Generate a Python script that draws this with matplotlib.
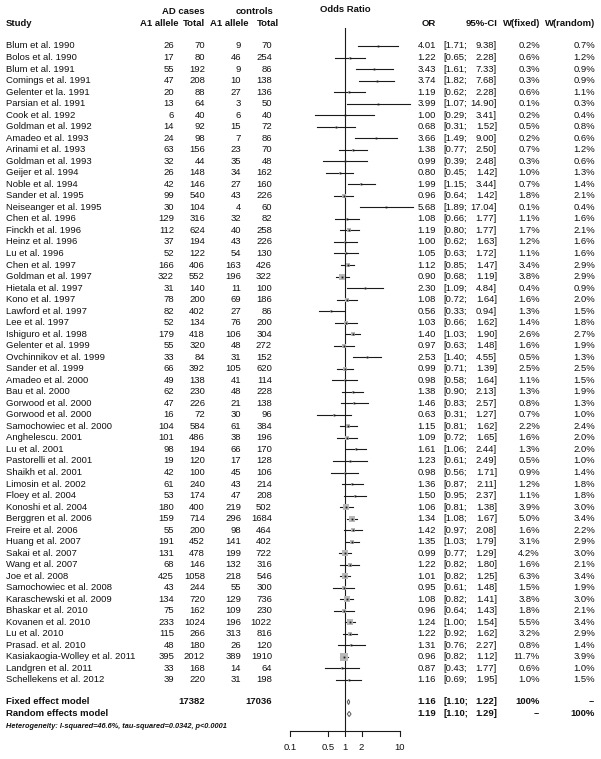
import matplotlib
matplotlib.use("Agg")
import matplotlib.pyplot as plt
import numpy as np
from matplotlib.patches import Polygon

plt.rcParams['font.family'] = ['Liberation Sans', 'DejaVu Sans']

studies = ["Blum et al. 1990", "Bolos et al. 1990", "Blum et al. 1991", "Comings et al. 1991",
           "Gelenter et la. 1991", "Parsian et al. 1991", "Cook et al. 1992", "Goldman et al. 1992",
           "Amadeo et al. 1993", "Arinami et al. 1993", "Goldman et al. 1993", "Geijer et al. 1994",
           "Noble et al. 1994", "Sander et al. 1995", "Neiseanger et al. 1995", "Chen et al. 1996",
           "Finckh et al. 1996", "Heinz et al. 1996", "Lu et al. 1996", "Chen et al. 1997",
           "Goldman et al. 1997", "Hietala et al. 1997", "Kono et al. 1997", "Lawford et al. 1997",
           "Lee et al. 1997", "Ishiguro et al. 1998", "Gelenter et al. 1999", "Ovchinnikov et al. 1999",
           "Sander et al. 1999", "Amadeo et al. 2000", "Bau et al. 2000", "Gorwood et al. 2000",
           "Gorwood et al. 2000", "Samochowiec et al. 2000", "Anghelescu. 2001", "Lu et al. 2001",
           "Pastorelli et al. 2001", "Shaikh et al. 2001", "Limosin et al. 2002", "Floey et al. 2004",
           "Konoshi et al. 2004", "Berggren et al. 2006", "Freire et al. 2006", "Huang et al. 2007",
           "Sakai et al. 2007", "Wang et al. 2007", "Joe et al. 2008", "Samochowiec et al. 2008",
           "Karaschewski et al. 2009", "Bhaskar et al. 2010", "Kovanen et al. 2010", "Lu et al. 2010",
           "Prasad. et al. 2010", "Kasiakaogia-Wolley et al. 2011", "Landgren et al. 2011",
           "Schellekens et al. 2012"]
case_a1 = [26, 17, 55, 47, 20, 13, 6, 14, 24, 63, 32, 26, 42, 99, 30, 129, 112, 37, 52, 166,
           322, 31, 78, 82, 52, 179, 55, 33, 66, 49, 62, 47, 16, 104, 101, 98, 19, 42, 61, 53,
           180, 159, 55, 191, 131, 68, 425, 43, 134, 75, 233, 115, 48, 395, 33, 39]
case_tot = [70, 80, 192, 208, 88, 64, 40, 92, 98, 156, 44, 148, 146, 540, 104, 316, 624, 194, 122, 406,
            552, 140, 200, 402, 134, 418, 320, 84, 392, 138, 230, 226, 72, 584, 486, 194, 120, 100, 240, 174,
            400, 714, 200, 452, 478, 146, 1058, 244, 720, 162, 1024, 266, 180, 2012, 168, 220]
ctrl_a1 = [9, 46, 9, 10, 27, 3, 6, 15, 7, 23, 35, 34, 27, 43, 4, 32, 40, 43, 54, 163,
           196, 11, 69, 27, 76, 106, 48, 31, 105, 41, 48, 21, 30, 61, 38, 66, 17, 45, 43, 47,
           219, 296, 98, 141, 199, 132, 218, 55, 129, 109, 196, 313, 26, 389, 14, 31]
ctrl_tot = [70, 254, 86, 138, 136, 50, 40, 72, 86, 70, 48, 162, 160, 226, 60, 82, 258, 226, 130, 426,
            322, 100, 186, 86, 200, 304, 272, 152, 620, 114, 228, 138, 96, 384, 196, 170, 128, 106, 214, 208,
            502, 1684, 464, 402, 722, 316, 546, 300, 736, 230, 1022, 816, 120, 1910, 64, 198]
odds = [4.01, 1.22, 3.43, 3.74, 1.19, 3.99, 1.00, 0.68, 3.66, 1.38, 0.99, 0.80, 1.99, 0.96, 5.68, 1.08,
        1.19, 1.00, 1.05, 1.12, 0.90, 2.30, 1.08, 0.56, 1.03, 1.40, 0.97, 2.53, 0.99, 0.98, 1.38, 1.46,
        0.63, 1.15, 1.09, 1.61, 1.23, 0.98, 1.36, 1.50, 1.06, 1.34, 1.42, 1.35, 0.99, 1.22, 1.01, 0.95,
        1.08, 0.96, 1.24, 1.22, 1.31, 0.96, 0.87, 1.16]
ci_lo = [1.71, 0.65, 1.61, 1.82, 0.62, 1.07, 0.29, 0.31, 1.49, 0.77, 0.39, 0.45, 1.15, 0.64, 1.89, 0.66,
         0.80, 0.62, 0.63, 0.85, 0.68, 1.09, 0.72, 0.33, 0.66, 1.03, 0.63, 1.40, 0.71, 0.58, 0.90, 0.83,
         0.31, 0.81, 0.72, 1.06, 0.61, 0.56, 0.87, 0.95, 0.81, 1.08, 0.97, 1.03, 0.77, 0.82, 0.82, 0.61,
         0.82, 0.64, 1.00, 0.92, 0.76, 0.82, 0.43, 0.69]
ci_hi = [9.38, 2.28, 7.33, 7.68, 2.28, 14.90, 3.41, 1.52, 9.00, 2.50, 2.48, 1.42, 3.44, 1.42, 17.04, 1.77,
         1.77, 1.63, 1.72, 1.47, 1.19, 4.84, 1.64, 0.94, 1.62, 1.90, 1.48, 4.55, 1.39, 1.64, 2.13, 2.57,
         1.27, 1.62, 1.65, 2.44, 2.49, 1.71, 2.11, 2.37, 1.38, 1.67, 2.08, 1.79, 1.29, 1.80, 1.25, 1.48,
         1.41, 1.43, 1.54, 1.62, 2.27, 1.12, 1.77, 1.95]
w_fixed = [0.2, 0.6, 0.3, 0.3, 0.6, 0.1, 0.2, 0.5, 0.2, 0.7, 0.3, 1.0, 0.7, 1.8, 0.1, 1.1,
           1.7, 1.2, 1.1, 3.4, 3.8, 0.4, 1.6, 1.3, 1.4, 2.6, 1.6, 0.5, 2.5, 1.1, 1.3, 0.8,
           0.7, 2.2, 1.6, 1.3, 0.5, 0.9, 1.2, 1.1, 3.9, 5.0, 1.6, 3.1, 4.2, 1.6, 6.3, 1.5,
           3.8, 1.8, 5.5, 3.2, 0.8, 11.7, 0.6, 1.0]
w_random = [0.7, 1.2, 0.9, 0.9, 1.1, 0.3, 0.4, 0.8, 0.6, 1.2, 0.6, 1.3, 1.4, 2.1, 0.4, 1.6,
            2.1, 1.6, 1.6, 2.9, 2.9, 0.9, 2.0, 1.5, 1.8, 2.7, 1.9, 1.3, 2.5, 1.5, 1.9, 1.3,
            1.0, 2.4, 2.0, 2.0, 1.0, 1.4, 1.8, 1.8, 3.0, 3.4, 2.2, 2.9, 3.0, 2.1, 3.4, 1.9,
            3.0, 2.1, 3.4, 2.9, 1.4, 3.9, 1.0, 1.5]

summary_labels = ["Fixed effect model", "Random effects model"]
summary_or = [1.16, 1.19]
summary_lo = [1.10, 1.10]
summary_hi = [1.22, 1.29]
summary_wf = ["100%", "--"]
summary_wr = ["--", "100%"]
total_cases = 17382
total_ctrls = 17036
heterogeneity = "Heterogeneity: I-squared=46.6%, tau-squared=0.0342, p<0.0001"
axis_ticks = [0.1, 0.5, 1, 2, 10]
axis_ticklabels = ["0.1", "0.5", "1", "2", "10"]

W, H = 601, 759
fig = plt.figure(figsize=(W / 100, H / 100), dpi=100)
ax = fig.add_axes([0, 0, 1, 1])
ax.set_xlim(0, W)
ax.set_ylim(H, 0)
ax.axis('off')

# forest axes: log scale 0.1..10 mapped to x px 290..400
fx0, fx1 = 290, 400
fax = fig.add_axes([fx0 / W, 0, (fx1 - fx0) / W, 1])
fax.set_xscale('log')
fax.set_xlim(0.1, 10)
fax.set_ylim(H, 0)
fax.axis('off')

fs = 6.8
txt = dict(fontsize=fs, va='center', color='#111111')
bold = dict(fontsize=fs, va='center', color='#111111', fontweight='bold')

# headers
ax.text(205, 12, "AD cases", ha='right', **bold)
ax.text(273, 12, "controls", ha='right', **bold)
ax.text(6, 24, "Study", ha='left', **bold)
ax.text(179, 24, "A1 allele", ha='right', **bold)
ax.text(205, 24, "Total", ha='right', **bold)
ax.text(248, 24, "A1 allele", ha='right', **bold)
ax.text(279, 24, "Total", ha='right', **bold)
ax.text(345, 10, "Odds Ratio", ha='center', **bold)
ax.text(436, 24, "OR", ha='right', **bold)
ax.text(497, 24, "95%-CI", ha='right', **bold)
ax.text(540, 24, "W(fixed)", ha='right', **bold)
ax.text(595, 24, "W(random)", ha='right', **bold)

y0, dy = 46, (680 - 46) / 55
n = len(studies)
ys = [y0 + i * dy for i in range(n)]

for i in range(n):
    y = ys[i]
    ax.text(6, y, studies[i], ha='left', **txt)
    ax.text(174, y, str(case_a1[i]), ha='right', **txt)
    ax.text(205, y, str(case_tot[i]), ha='right', **txt)
    ax.text(241, y, str(ctrl_a1[i]), ha='right', **txt)
    ax.text(272, y, str(ctrl_tot[i]), ha='right', **txt)
    ax.text(436, y, f"{odds[i]:.2f}", ha='right', **txt)
    ax.text(443, y, f"[{ci_lo[i]:.2f};", ha='left', **txt)
    ax.text(497, y, f"{ci_hi[i]:.2f}]", ha='right', **txt)
    ax.text(540, y, f"{w_fixed[i]:.1f}%", ha='right', **txt)
    ax.text(595, y, f"{w_random[i]:.1f}%", ha='right', **txt)
    # CI line
    fax.plot([ci_lo[i], ci_hi[i]], [y, y], color='#1a1a1a', lw=0.8, clip_on=False, zorder=2)
    side = 2.63 * np.sqrt(w_fixed[i])
    fax.plot([odds[i]], [y], marker='s', ms=side * 0.72, color='#b8b8b8',
             markeredgewidth=0, clip_on=False, zorder=3)
    fax.plot([odds[i]], [y], marker='s', ms=1.3, color='#1a1a1a',
             markeredgewidth=0, clip_on=False, zorder=4)

# summary rows
sy = [702, 714]
for j in range(2):
    y = sy[j]
    ax.text(6, y, summary_labels[j], ha='left', **bold)
    ax.text(436, y, f"{summary_or[j]:.2f}", ha='right', **bold)
    ax.text(443, y, f"[{summary_lo[j]:.2f};", ha='left', **bold)
    ax.text(497, y, f"{summary_hi[j]:.2f}]", ha='right', **bold)
    ax.text(540, y, summary_wf[j], ha='right', **bold)
    ax.text(595, y, summary_wr[j], ha='right', **bold)
    h = 2.6
    poly = Polygon([(summary_lo[j], y), (summary_or[j], y - h), (summary_hi[j], y),
                    (summary_or[j], y + h)], closed=True, facecolor='white',
                   edgecolor='#555555', lw=0.7, clip_on=False, zorder=3)
    fax.add_patch(poly)
ax.text(205, sy[0], str(total_cases), ha='right', **bold)
ax.text(272, sy[0], str(total_ctrls), ha='right', **bold)

ax.text(6, 726, heterogeneity, ha='left', va='center', fontsize=5.3,
        fontweight='bold', fontstyle='italic', color='#111111')

# reference line at OR = 1
fax.plot([1, 1], [28, 731], color='#1a1a1a', lw=0.8, clip_on=False, zorder=1)

# axis
fax.plot([axis_ticks[0], axis_ticks[-1]], [731, 731], color='#1a1a1a', lw=0.8, clip_on=False)
for t, lab in zip(axis_ticks, axis_ticklabels):
    fax.plot([t, t], [731, 736], color='#1a1a1a', lw=0.8, clip_on=False)
    fax.text(t, 748, lab, ha='center', va='center', fontsize=fs, color='#111111')

fig.savefig("out.png", dpi=100)
